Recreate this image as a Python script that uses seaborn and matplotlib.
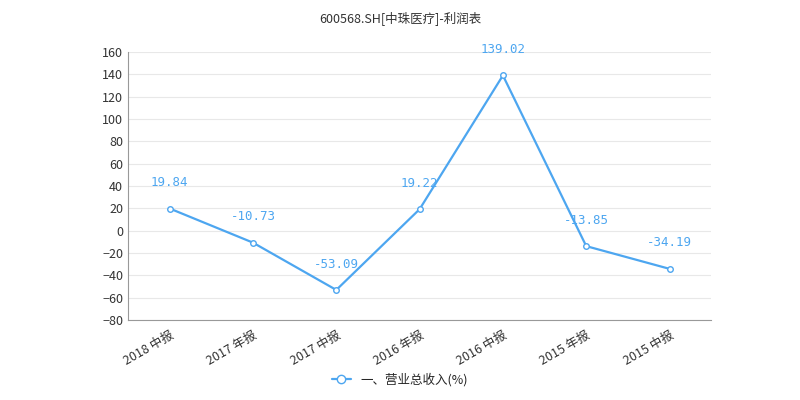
import numpy as np
import pandas as pd
import seaborn as sns
import matplotlib.pyplot as plt
from matplotlib.lines import Line2D

# Data
periods = ["2018 中报", "2017 年报", "2017 中报", "2016 年报", "2016 中报", "2015 年报", "2015 中报"]
revenue_pct = [19.84, -10.73, -53.09, 19.22, 139.02, -13.85, -34.19]
series_name = "一、营业总收入(%)"

sns.set_theme(style="white")
plt.rcParams["font.family"] = ["Noto Sans CJK SC", "DejaVu Sans"]

df = pd.DataFrame({"period": periods, "value": revenue_pct})
df["x"] = np.arange(len(periods))

fig = plt.figure(figsize=(8, 4), dpi=100)
ax = fig.add_axes([0.16, 0.2, 0.729, 0.67])
blue = "#4da6f0"

sns.lineplot(data=df, x="x", y="value", ax=ax, color=blue, lw=1.6,
             marker="o", markersize=4, markerfacecolor="white",
             markeredgecolor=blue, markeredgewidth=1)

for xi, v in zip(df["x"], df["value"]):
    ax.annotate(f"{v:.2f}", (xi, v), xytext=(0, 14), textcoords="offset points",
                ha="center", va="bottom", color=blue, fontsize=9,
                family=["DejaVu Sans Mono"])

ax.set_xlim(-0.5, len(periods) - 0.5)
ax.set_ylim(-80, 160)
ax.set_yticks(range(-80, 161, 20))
ax.set_xticks(df["x"])
ax.set_xticklabels(periods, rotation=30, ha="right", rotation_mode="anchor")
ax.tick_params(axis="both", labelsize=9, colors="#333333", length=0)
ax.tick_params(axis="x", pad=6)
ax.grid(axis="y", color="#e8e8e8", lw=0.8)
ax.set_xlabel("")
ax.set_ylabel("")
for s in ["top", "right"]:
    ax.spines[s].set_visible(False)
for s in ["left", "bottom"]:
    ax.spines[s].set_color("#999999")
    ax.spines[s].set_linewidth(0.8)

fig.text(0.5, 0.955, "600568.SH[中珠医疗]-利润表", ha="center", va="center",
         fontsize=9, color="#333333")

handle = Line2D([], [], color=blue, lw=1.6, marker="o", markersize=6,
                markerfacecolor="white", markeredgecolor=blue)
fig.legend([handle], [series_name], loc="center", bbox_to_anchor=(0.5, 0.05),
           frameon=False, fontsize=9, handlelength=1.5)

fig.savefig("out.png", dpi=100)
